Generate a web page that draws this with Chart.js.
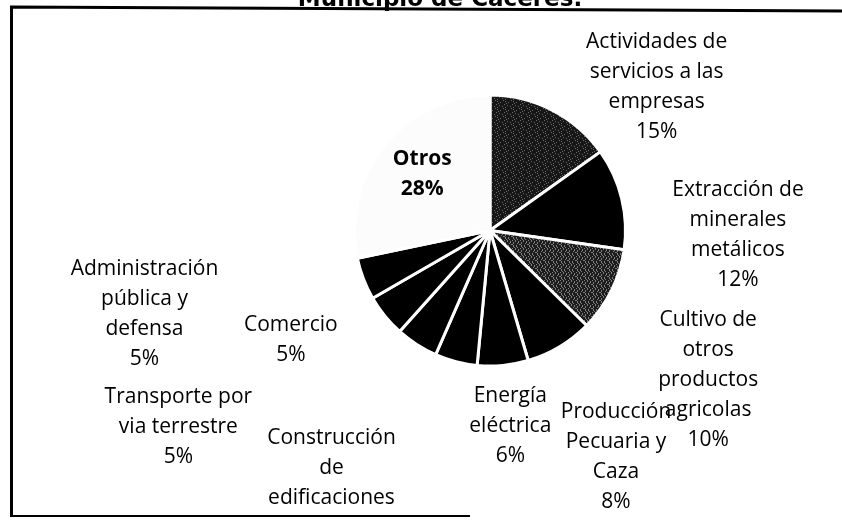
<!DOCTYPE html>
<html>
<head>
<meta charset="utf-8">
<script src="https://cdn.jsdelivr.net/npm/chart.js@4"></script>
<style>
  html, body { margin: 0; padding: 0; background: #fff; }
  #wrap { position: relative; width: 842px; height: 521px; }
</style>
</head>
<body>
<div id="wrap"><canvas id="myChart" width="842" height="521"></canvas></div>
<script>
// sectores (sentido horario desde las 12)
const sectores = [
  ["Actividades de", "servicios a las", "empresas"],
  ["Extracción de", "minerales", "metálicos"],
  ["Cultivo de", "otros", "productos", "agricolas"],
  ["Producción", "Pecuaria y", "Caza"],
  ["Energía", "eléctrica"],
  ["Construcción", "de", "edificaciones"],
  ["Transporte por", "via terrestre"],
  ["Comercio"],
  ["Administración", "pública y", "defensa"],
  ["Otros"]
];
const porcentajes = [15, 12, 10, 8, 6, 5, 5, 5, 5, 28];
const titulo = "Municipio de Cáceres.";

// donde va cada etiqueta, en radios desde el centro del pie
const posEtiquetas = [
  [1.23, -1.06], [1.83, 0.03], [1.61, 1.10], [0.93, 1.67], [0.15, 1.44],
  [-1.17, 1.86], [-2.30, 1.45], [-1.47, 0.81], [-2.55, 0.62], [-0.50, -0.42]
];

function trama(base, claro, mascara) {
  const c = document.createElement("canvas");
  c.width = 8; c.height = 8;
  const g = c.getContext("2d");
  g.fillStyle = base;
  g.fillRect(0, 0, 8, 8);
  g.fillStyle = claro;
  for (let i = 0; i < 64; i++) {
    if (mascara[i] === "1") g.fillRect(i % 8, Math.floor(i / 8), 1, 1);
  }
  return g.createPattern(c, "repeat");
}
const ctx = document.getElementById("myChart").getContext("2d");
const grisOscuro = trama("#161616", "#6a6a6a",
  "1000000000010000000000100100000000000001010000000000100000100000");
const grisMedio = trama("#1c1c1c", "#808080",
  "1001000000010010010000100100010010000001010010000100100000100100");
const colores = [grisOscuro, "#000", grisMedio, "#000", "#000", "#000", "#000", "#000", "#000", "#fcfcfc"];

const decorado = {
  id: "decorado",
  afterDraw(chart) {
    const c = chart.ctx;
    c.save();
    // marco escaneado
    c.strokeStyle = "#000";
    c.lineWidth = 3;
    c.beginPath();
    c.moveTo(11.5, 517);
    c.lineTo(11.5, 7);
    c.lineTo(842, 11);
    c.stroke();
    c.lineWidth = 2;
    c.beginPath();
    c.moveTo(11, 516);
    c.lineTo(470, 516);
    c.stroke();

    // titulo (cortado por arriba)
    c.fillStyle = "#000";
    c.font = "bold 23px 'DejaVu Sans'";
    c.textAlign = "center";
    c.textBaseline = "alphabetic";
    c.fillText(titulo, 440, 6);

    // lo que cae bajo el marco no se ve
    c.beginPath();
    c.rect(0, 0, 842, 514);
    c.clip();

    const arcos = chart.getDatasetMeta(0).data;
    const cx = arcos[0].x, cy = arcos[0].y, r = arcos[0].outerRadius;
    const alto = 30;
    sectores.forEach((lineas, i) => {
      const todas = lineas.concat([porcentajes[i] + "%"]);
      const x = cx + posEtiquetas[i][0] * r;
      const y0 = cy + posEtiquetas[i][1] * r - (todas.length - 1) * alto / 2;
      c.font = (i === sectores.length - 1 ? "bold " : "") + "21px 'Open Sans'";
      c.textBaseline = "middle";
      todas.forEach((t, k) => c.fillText(t, x, y0 + k * alto));
    });
    c.restore();
  }
};

new Chart(ctx, {
  type: "pie",
  data: {
    labels: sectores,
    datasets: [{
      data: porcentajes,
      backgroundColor: colores,
      borderColor: "#fff",
      borderWidth: 3
    }]
  },
  options: {
    responsive: false,
    animation: false,
    layout: { padding: { left: 353, right: 215, top: 93, bottom: 153 } },
    plugins: {
      legend: { display: false },
      tooltip: { enabled: false }
    }
  },
  plugins: [decorado]
});
</script>
</body>
</html>
